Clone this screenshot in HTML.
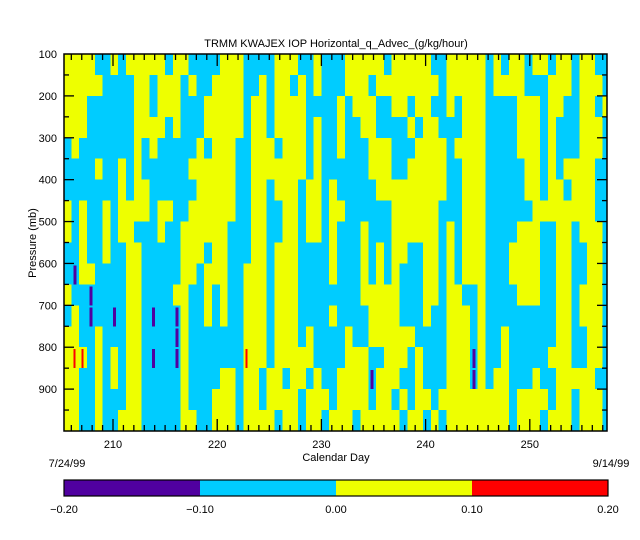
<!DOCTYPE html>
<html><head><meta charset="utf-8"><style>
html,body{margin:0;padding:0;background:#fff;width:640px;height:540px;overflow:hidden}
svg{display:block}
text{font-family:"Liberation Sans",sans-serif;font-size:11px;fill:#000}
</style></head><body>
<svg id="chart" width="640" height="540" viewBox="0 0 640 540">
<text x="336" y="47" text-anchor="middle" font-size="12">TRMM KWAJEX IOP Horizontal_q_Advec_(g/kg/hour)</text>
<g id="cells" shape-rendering="crispEdges"></g>
<g id="axes"></g>
<text x="0" y="0" transform="translate(36,243) rotate(-90)" text-anchor="middle">Pressure (mb)</text>
<text x="336" y="461" text-anchor="middle">Calendar Day</text>
<text x="67" y="467" text-anchor="middle">7/24/99</text>
<text x="611" y="467" text-anchor="middle">9/14/99</text>
<g id="cbar"></g>
</svg>
<script>
// ---- data ----
const levelBounds = [-0.20, -0.10, 0.00, 0.10, 0.20];
const levelColors = ["#5000a0", "#00ccff", "#eeff00", "#ff0000"];
const codeValues = {P: -0.15, C: -0.05, Y: 0.05, R: 0.15};
const dayStart = 205.25;
const dayStep = 0.75;
const pressureTop = [100,150,200,250,300,350,400,450,500,550,600,650,700,750,800,850,900,950];
const pressureStep = 50;
const xTicks = [210, 220, 230, 240, 250];
const yTicks = [100, 200, 300, 400, 500, 600, 700, 800, 900];
const cbarLabels = ["-0.20", "-0.10", "0.00", "0.10", "0.20"];
const rowCodes = [
"YYYYCCYCYYYYYCYYCC"+"CCYYYCCCCYYYCCYCC"+"CYYYYYCYYYYYCCYYY"+"YYCYCYYCYYCYYCYYCC",
"YYYYYCCCCYYCYYYCYC"+"CYYYYCCYCYYCYCYCC"+"CYYYCYYYYYYYYCYYY"+"YYCYYYYCCCYYYCYYYC",
"YYYCCCCCCYYCYYYCCC"+"YYYYYCYYCYYYYCCCC"+"YCYYYCCYYCYYCCYCY"+"YYCCCCYYYCYYCCYYCY",
"YYYCCCCCCYYYYCYCCC"+"YYYYYCYYCYYYYCYCC"+"YCCYYCCCCYCYYCCCY"+"YYCCCCYYYCYCCCYYYC",
"CYCCCCCCCYCYCCCCCY"+"CYYYCCYYYCYYYCYCC"+"YCCCYYYCCCYYYYCYY"+"YYCCCCYYYCYCCCYYYC",
"CCCCYCCYCYCCCCCCYY"+"YYYYCCYYYYYYYCYCC"+"CCCCYYYCCYYYYYCCY"+"YYCCCCCYYCYCYYYYCC",
"CCCCCCCYCYYCCCCCCY"+"YYYYCCYYCYYYCYYCY"+"CCCCCYYYYYYYYYCCY"+"YYCCCCCYYCYYCYYYCC",
"YCYCCYCYYYYCYYCCYY"+"YYYYCCYYCCYYCYYCY"+"YCCCCCCYYYYYYCCCY"+"YYCCCCCCYYYYYYYYCC",
"YCYCCYCYYCCCYCCYYY"+"YYYCCCYYCCYYCYYCY"+"CCCYCCCYYYYYYCYCY"+"YYCCCCYYYCCYYCYYYC",
"CCYCCYCCYYCCCCCYYY"+"CYYCCCYYCYYYCCCCY"+"CCCYCYCYYCCYYCYCY"+"YYCCCYYYYCCYYCCYYC",
"CPYYCCCCYYCCCCCYYC"+"YYYCCYYYCYYYCCCCY"+"CCCYCYCYCCCYYCYCY"+"YYCCCYYYYCCYYCCYYC",
"YCCPCCCCYYCCCCYYCC"+"YCYCCYYYCYYYCCCCC"+"CCCYYYYYCCCYYCYYC"+"CYCCCCYYYCCYYCYYYC",
"CYCPCCPCYYCPCCPYCC"+"YCYCCYYYCYYYCCCCY"+"CCCCYYYYCCCYCCYYY"+"CYCCCCCCCCCYYCYYYC",
"YYCCYCCCYYCCCCPYCC"+"CCCCCYYYCYYYCYCCC"+"CYCCYYYYYYCCCCYYY"+"CYCCYCCCCCCYYCCYYC",
"YRRCYCYCYYCPCCPYCC"+"CCCCCRYYCYYYYYCCC"+"CYYYCCYYYCYCCCYYY"+"PYCCYCCCCCYYYCCYYC",
"YYCCYCYCYYCCCCCYCC"+"CCYYCYYCYYCYYCYCC"+"YYYYPYYYCCYCCCYYY"+"PYCYYCCCYCCYYYYYCC",
"YYCCYCCCYYCCCCCYCC"+"CYYYCYYCYYYYCYYYC"+"YYYYCYYCYCYYCYYYY"+"YYYYYCYYYYCYYCYYYC",
"YYCCYCCYYYCCCCCYYC"+"CYYYCYYYYCYYCYYCY"+"YYCYYYYYCYYCYCYYY"+"YYYYYCYYYCYYYCYYYC"
];
// ---- scales ----
const PX0=64, PX1=607, PY0=54, PY1=431;
function xScale(d){ return 113 + (d-210)*10.42; }
function yScale(p){ return PY0 + (p-100)*(PY1-PY0)/900; }
function colorFor(v){
  for(let k=0;k<levelColors.length;k++){ if(v>=levelBounds[k] && v<levelBounds[k+1]) return levelColors[k]; }
  return v<levelBounds[0]?levelColors[0]:levelColors[levelColors.length-1];
}
const NS="http://www.w3.org/2000/svg";
const cells=document.getElementById('cells');
function addRect(x,y,w,h,fill){
  const rc=document.createElementNS(NS,'rect');
  rc.setAttribute('x',x.toFixed(2)); rc.setAttribute('y',y.toFixed(2));
  rc.setAttribute('width',w.toFixed(2)); rc.setAttribute('height',h.toFixed(2));
  rc.setAttribute('fill',fill);
  
  
  cells.appendChild(rc);
}
rowCodes.forEach(function(row, r){
  const p0=pressureTop[r], p1=p0+pressureStep;
  const y0=yScale(p0), y1=yScale(p1);
  for(let i=0;i<row.length;i++){
    const v=codeValues[row[i]];
    const d0=dayStart+i*dayStep, d1=d0+dayStep;
    let x0=Math.max(PX0, xScale(d0)), x1=Math.min(PX1, xScale(d1));
    if(i===row.length-1) x1=PX1;
    if(x1<=x0) continue;
    if(v < levelBounds[1] || v >= levelBounds[3]){
      // extreme values: thin streak inside neighbouring band
      const base = v<0 ? levelColors[1] : levelColors[2];
      addRect(x0,y0,x1-x0+0.6,y1-y0+0.6,base);
      const cx=(x0+x1)/2;
      addRect(cx-1.5,y0+2,v<0?3:2,y1-y0-2,colorFor(v));
    } else {
      addRect(x0,y0,x1-x0+0.6,y1-y0+0.6,colorFor(v));
    }
  }
});
// ---- axes ----
const axes=document.getElementById('axes');
function line(x1,y1,x2,y2,w){
  const l=document.createElementNS(NS,'line');
  l.setAttribute('x1',x1);l.setAttribute('y1',y1);l.setAttribute('x2',x2);l.setAttribute('y2',y2);
  l.setAttribute('stroke','#000');l.setAttribute('stroke-width',w||1.3);
  axes.appendChild(l); return l;
}
function txt(x,y,s,anchor,parent){
  const t=document.createElementNS(NS,'text');
  t.setAttribute('x',x);t.setAttribute('y',y);t.setAttribute('text-anchor',anchor);
  t.textContent=s; (parent||axes).appendChild(t); return t;
}
const frame=document.createElementNS(NS,'rect');
frame.setAttribute('x',PX0);frame.setAttribute('y',PY0);frame.setAttribute('width',PX1-PX0);frame.setAttribute('height',PY1-PY0);
frame.setAttribute('fill','none');frame.setAttribute('stroke','#000');frame.setAttribute('stroke-width',1.5);


axes.appendChild(frame);
for(let d=206; d<=257; d++){
  const x=xScale(d); if(x<=PX0||x>=PX1) continue;
  const major=(d%10===0); const L=major?12:6;
  line(x,PY1,x,PY1-L); line(x,PY0,x,PY0+L);
}
xTicks.forEach(function(d){
  const t=txt(xScale(d),448,String(d),'middle');
  
  
});
for(let p=150;p<1000;p+=50){
  const y=yScale(p); const major=(p%100===0); const L=major?10:5;
  line(PX0,y,PX0+L,y); line(PX1,y,PX1-L,y);
}
yTicks.forEach(function(p){
  const t=txt(57,yScale(p)+4,String(p),'end');
  
  
});
// ---- colorbar ----
const cbar=document.getElementById('cbar');
const cbW=(608-64)/levelColors.length;
levelColors.forEach(function(c,k){
  const r=document.createElementNS(NS,'rect');
  r.setAttribute('x',64+k*cbW);r.setAttribute('y',480);r.setAttribute('width',cbW);r.setAttribute('height',16);
  r.setAttribute('fill',c);
  
  
  cbar.appendChild(r);
});
const cbf=document.createElementNS(NS,'rect');
cbf.setAttribute('x',64);cbf.setAttribute('y',480);cbf.setAttribute('width',544);cbf.setAttribute('height',16);
cbf.setAttribute('fill','none');cbf.setAttribute('stroke','#000');cbf.setAttribute('stroke-width',1.2);


cbar.appendChild(cbf);
cbarLabels.forEach(function(s,k){
  const t=txt(64+k*cbW,513,s.replace('-','\u2212'),'middle',cbar);
  
  
});
</script>
</body></html>
